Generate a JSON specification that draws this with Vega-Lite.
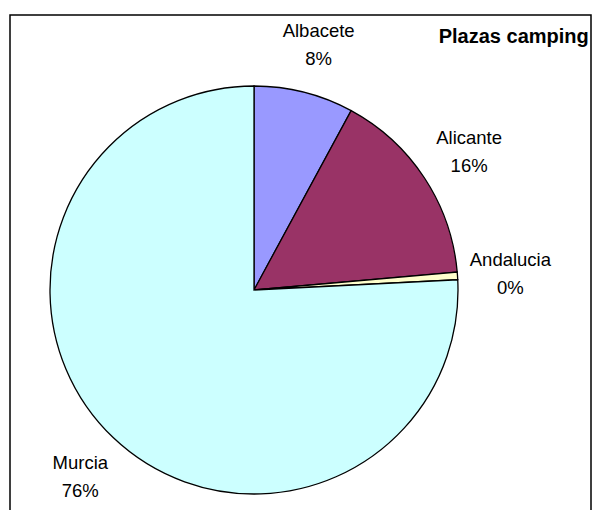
{
  "$schema": "https://vega.github.io/schema/vega-lite/v6.json",
  "width": 581,
  "height": 500,
  "autosize": {"type": "none"},
  "padding": {"left": 10, "top": 15, "right": 2, "bottom": 0},
  "background": "white",
  "config": {
    "view": {"stroke": null},
    "font": "Liberation Sans"
  },
  "title": {
    "text": "Plazas camping",
    "anchor": "end",
    "orient": "top",
    "offset": -49,
    "baseline": "alphabetic",
    "dx": -3,
    "fontSize": 20,
    "fontWeight": "bold",
    "font": "Liberation Sans",
    "color": "black"
  },
  "data": {
    "values": [
      {"name": "Albacete", "value": 7.9, "label": "Albacete\n8%"},
      {"name": "Alicante", "value": 15.7, "label": "Alicante\n16%"},
      {"name": "Andalucia", "value": 0.6, "label": "Andalucia\n0%"},
      {"name": "Murcia", "value": 75.8, "label": "Murcia\n76%"}
    ]
  },
  "layer": [
    {
      "data": {"values": [{"frame": 1}]},
      "mark": {"type": "rect", "x": 0, "x2": "width", "y": 0, "y2": "height", "fill": null, "stroke": "black", "strokeWidth": 1.5},
      "encoding": {}
    },
    {
      "mark": {"type": "arc", "outerRadius": 204, "x": 244, "y": 275, "stroke": "black", "strokeWidth": 1.3},
      "encoding": {
        "theta": {"field": "value", "type": "quantitative", "stack": true},
        "color": {
          "field": "name",
          "type": "nominal",
          "scale": {
            "domain": ["Albacete", "Alicante", "Andalucia", "Murcia"],
            "range": ["#9999FF", "#993366", "#FFFFCC", "#CCFFFF"]
          },
          "legend": null
        }
      }
    },
    {
      "mark": {"type": "text", "radius": 255, "x": 244, "y": 275, "dx": 2, "dy": -12, "fontSize": 18.5, "lineBreak": "\n", "lineHeight": 28, "baseline": "middle", "align": "center", "fill": "black"},
      "encoding": {
        "theta": {"field": "value", "type": "quantitative", "stack": true},
        "text": {"field": "label"}
      }
    }
  ]
}
